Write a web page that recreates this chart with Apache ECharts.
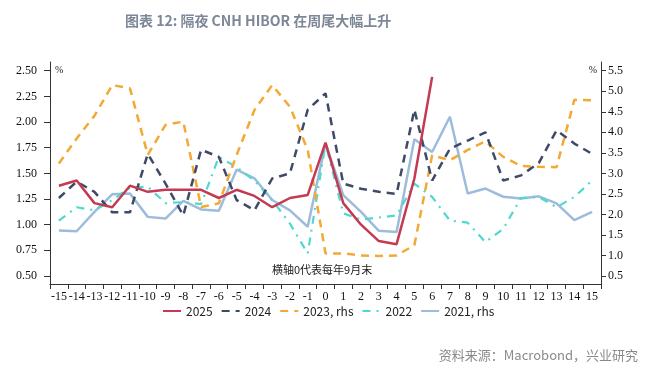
<!DOCTYPE html>
<html><head><meta charset="utf-8">
<script src="https://cdn.jsdelivr.net/npm/echarts@6/dist/echarts.min.js"></script>
<style>html,body{margin:0;padding:0;background:#fff}#c{width:660px;height:372px}</style>
</head><body><div id="c"></div>
<script>
var categories = ['-15','-14','-13','-12','-11','-10','-9','-8','-7','-6','-5','-4','-3','-2','-1','0','1','2','3','4','5','6','7','8','9','10','11','12','13','14','15'];
var s2025 = [1.38,1.43,1.21,1.17,1.38,1.32,1.34,1.34,1.34,1.26,1.34,1.28,1.17,1.26,1.29,1.80,1.21,1.00,0.84,0.81,1.45,2.44,null,null,null,null,null,null,null,null,null];
var s2024 = [1.26,1.42,1.32,1.12,1.12,1.69,1.40,1.09,1.73,1.66,1.24,1.14,1.45,1.50,2.12,2.28,1.40,1.35,1.32,1.30,2.12,1.43,1.74,1.82,1.90,1.43,1.48,1.60,1.92,1.79,1.69];
var s2023 = [3.24,3.85,4.40,5.15,5.07,3.45,4.18,4.26,2.18,2.27,3.45,4.54,5.15,4.62,3.57,1.05,1.05,1.00,0.99,1.00,1.25,3.44,3.32,3.57,3.78,3.40,3.18,3.16,3.15,4.79,4.78];
var s2022 = [1.04,1.17,1.14,1.24,1.36,1.37,1.21,1.22,1.20,1.66,1.56,1.43,1.24,1.01,0.72,1.79,1.11,1.05,1.07,1.09,1.40,1.27,1.04,1.02,0.83,0.96,1.26,1.27,1.17,1.27,1.43];
var s2021 = [1.61,1.59,2.06,2.49,2.51,1.94,1.90,2.33,2.12,2.09,3.09,2.88,2.35,2.10,1.70,3.73,2.47,2.06,1.60,1.57,3.83,3.52,4.38,2.51,2.63,2.43,2.39,2.44,2.27,1.86,2.06];
var leftTicks = [0.5,0.75,1.0,1.25,1.5,1.75,2.0,2.25,2.5];
var rightTicks = [0.5,1.0,1.5,2.0,2.5,3.0,3.5,4.0,4.5,5.0,5.5];
var names = ['2025','2024','2023, rhs','2022','2021, rhs'];

var serif = '"Liberation Serif","DejaVu Serif",serif';
var chart = echarts.init(document.getElementById('c'), null, {renderer:'canvas'});
var axisLine = {show:true, lineStyle:{color:'#333', width:1}};
chart.setOption({
  animation:false,
  backgroundColor:'#fff',
  title:{text:'图表 12: 隔夜 CNH HIBOR 在周尾大幅上升', left:120, top:9,
    textStyle:{fontFamily:'"Noto Sans CJK SC"', fontSize:14, fontWeight:'bold', color:'#7d8797'}},
  grid:{left:50, right:59, top:62, bottom:88},
  legend:{data:names, left:157, top:300, itemWidth:18, itemHeight:10, itemGap:8,
    itemStyle:{opacity:0},
    textStyle:{fontFamily:'"Noto Sans CJK SC"', fontSize:12, color:'#222'}},
  xAxis:{type:'category', data:categories, boundaryGap:true,
    axisLine:axisLine, axisTick:{show:true, length:5, interval:0, lineStyle:{color:'#333'}},
    axisLabel:{interval:0, margin:7, fontFamily:serif, fontSize:12, color:'#111'}, splitLine:{show:false}},
  yAxis:[
    {type:'value', min:0.422, max:2.585, position:'left', splitLine:{show:false},
     axisLine:axisLine, axisTick:{show:true, length:6, customValues:leftTicks, lineStyle:{color:'#333'}},
     axisLabel:{customValues:leftTicks, margin:13, fontFamily:serif, fontSize:12, color:'#111',
       formatter:function(v){return v.toFixed(2);}}},
    {type:'value', min:0.305, max:5.712, position:'right', splitLine:{show:false},
     axisLine:axisLine, axisTick:{show:true, length:5, customValues:rightTicks, lineStyle:{color:'#333'}},
     axisLabel:{customValues:rightTicks, margin:7, fontFamily:serif, fontSize:12, color:'#111',
       formatter:function(v){return v.toFixed(1);}}}
  ],
  graphic:[
    {type:'text', left:55, top:65, style:{text:'%', font:'10px "Liberation Serif"', fill:'#222'}},
    {type:'text', right:63, top:65, style:{text:'%', font:'10px "Liberation Serif"', fill:'#222'}},
    {type:'text', left:272, top:264, style:{text:'横轴0代表每年9月末', font:'11px "Noto Sans CJK SC"', fill:'#222'}},
    {type:'text', right:22, top:349, style:{text:'资料来源：Macrobond，兴业研究', font:'13px "Noto Sans CJK SC"', fill:'#8a8a8a'}}
  ],
  series:[
    {name:'2021, rhs', type:'line', yAxisIndex:1, data:s2021, symbol:'none', showSymbol:false, z:2,
     lineStyle:{color:'#9dbcdb', width:2.5}, itemStyle:{color:'#9dbcdb'}},
    {name:'2022', type:'line', yAxisIndex:0, data:s2022, symbol:'none', showSymbol:false, z:3,
     lineStyle:{color:'#4fd8d0', width:2.2, type:[8,6,2,6]}, itemStyle:{color:'#4fd8d0'}},
    {name:'2023, rhs', type:'line', yAxisIndex:1, data:s2023, symbol:'none', showSymbol:false, z:4,
     lineStyle:{color:'#f2a935', width:2.5, type:[8,6]}, itemStyle:{color:'#f2a935'}},
    {name:'2024', type:'line', yAxisIndex:0, data:s2024, symbol:'none', showSymbol:false, z:5,
     lineStyle:{color:'#3e4a66', width:2.5, type:[8,6]}, itemStyle:{color:'#3e4a66'}},
    {name:'2025', type:'line', yAxisIndex:0, data:s2025, symbol:'none', showSymbol:false, z:6,
     lineStyle:{color:'#c43a52', width:2.5}, itemStyle:{color:'#c43a52'}}
  ]
});
</script></body></html>
